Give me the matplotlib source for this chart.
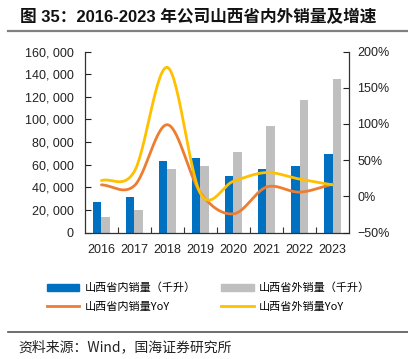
import numpy as np
import matplotlib
matplotlib.use("Agg")
import matplotlib.pyplot as plt
from matplotlib.lines import Line2D
from matplotlib.patches import Patch
from matplotlib.ticker import FuncFormatter, FixedLocator

plt.rcParams["font.family"] = ["Liberation Sans", "Noto Sans CJK SC", "DejaVu Sans"]

years = ["2016", "2017", "2018", "2019", "2020", "2021", "2022", "2023"]
inside_sales = [27000, 31500, 63000, 66000, 50000, 56000, 59000, 69500]
outside_sales = [14000, 20000, 56500, 59000, 71500, 94500, 117000, 135500]
inside_yoy = [16, 15, 99, 5, -24, 13, 6, 17]
outside_yoy = [22, 35, 178, 4, 21, 33, 24, 16]

label_in = "山西省内销量（千升）"
label_out = "山西省外销量（千升）"
label_in_yoy = "山西省内销量YoY"
label_out_yoy = "山西省外销量YoY"

BLUE = "#0070C0"
GREY = "#BFBFBF"
ORANGE = "#ED7D31"
YELLOW = "#FFC000"


def smooth(y, n=30):
    # catmull-rom style smoothing, like the spreadsheet "smoothed line"
    y = np.asarray(y, dtype=float)
    x = np.arange(len(y), dtype=float)
    p = np.concatenate([[2 * y[0] - y[1]], y, [2 * y[-1] - y[-2]]])
    xs, ys = [], []
    for i in range(len(y) - 1):
        p0, p1, p2, p3 = p[i], p[i + 1], p[i + 2], p[i + 3]
        t = np.linspace(0, 1, n, endpoint=(i == len(y) - 2))
        seg = 0.5 * ((2 * p1) + (-p0 + p2) * t + (2 * p0 - 5 * p1 + 4 * p2 - p3) * t ** 2
                     + (-p0 + 3 * p1 - 3 * p2 + p3) * t ** 3)
        xs.append(x[i] + t)
        ys.append(seg)
    return np.concatenate(xs), np.concatenate(ys)


fig = plt.figure(figsize=(4.08, 3.59), dpi=100)
ax1 = fig.add_axes([0.2083, 0.3518, 0.6471, 0.5047])
ax2 = ax1.twinx()

x = np.arange(len(years))
w = 0.25
ax1.bar(x - w / 2, inside_sales, width=w, color=BLUE)
ax1.bar(x + w / 2, outside_sales, width=w, color=GREY)

sx, sy = smooth(inside_yoy)
ax2.plot(sx, sy, color=ORANGE, lw=2.0, solid_capstyle="round")
sx, sy = smooth(outside_yoy)
ax2.plot(sx, sy, color=YELLOW, lw=2.0, solid_capstyle="round")

ax1.set_xlim(-0.5, len(years) - 0.5)
ax1.set_ylim(0, 160000)
ax1.set_yticks(np.arange(0, 160001, 20000))
ax1.yaxis.set_major_formatter(FuncFormatter(lambda v, _: f"{int(v):,}".replace(",", ", ")))
ax2.set_ylim(-50, 200)
ax2.set_yticks(np.arange(-50, 201, 50))
ax2.yaxis.set_major_formatter(FuncFormatter(lambda v, _: f"{int(v)}%".replace("-", "\u2212")))

ax1.set_xticks(x)
ax1.set_xticklabels(years)
ax1.xaxis.set_minor_locator(FixedLocator(np.arange(0.5, len(years) - 1, 1.0)))
ax1.tick_params(axis="x", which="major", length=0, labelsize=9, pad=8, colors="#222222")
ax1.tick_params(axis="x", which="minor", direction="in", length=4, width=0.8, color="#333333")
ax1.tick_params(axis="y", direction="in", length=4, width=0.8, labelsize=9, pad=8,
                colors="#222222")
ax2.tick_params(axis="y", direction="in", length=4, width=0.8, labelsize=9, pad=6,
                colors="#222222")

for ax in (ax1, ax2):
    ax.spines["top"].set_visible(False)
    for s in ("left", "right", "bottom"):
        ax.spines[s].set_linewidth(0.9)
        ax.spines[s].set_color("#333333")
ax1.spines["right"].set_visible(False)
ax2.spines["left"].set_visible(False)
ax2.spines["bottom"].set_visible(False)

handles = [
    Patch(color=BLUE),
    Line2D([], [], color=ORANGE, lw=2.0),
    Patch(color=GREY),
    Line2D([], [], color=YELLOW, lw=2.0),
]
labels = [label_in, label_in_yoy, label_out, label_out_yoy]
fig.legend(handles, labels, ncol=2, loc="center left", bbox_to_anchor=(0.09, 0.172),
           frameon=False, handlelength=2.9, handleheight=0.6,
           handletextpad=0.5, columnspacing=2.3, labelspacing=0.75,
           prop={"family": ["Noto Sans CJK SC", "DejaVu Sans"], "size": 8})

fig.text(0.049, 0.953, "图 35：2016-2023 年公司山西省内外销量及增速", fontsize=12,
         fontweight="bold", va="center", ha="left", color="#111111")
fig.add_artist(Line2D([0.02, 1.0], [0.915, 0.915], color="#808080", lw=1.6))
fig.add_artist(Line2D([0.02, 1.0], [0.075, 0.075], color="#555555", lw=1.2))
fig.text(0.045, 0.033, "资料来源：Wind，国海证券研究所", fontsize=10, va="center",
         ha="left", color="#222222",
         family=["Noto Sans CJK SC", "DejaVu Sans"])

fig.savefig("out.png", dpi=100)
